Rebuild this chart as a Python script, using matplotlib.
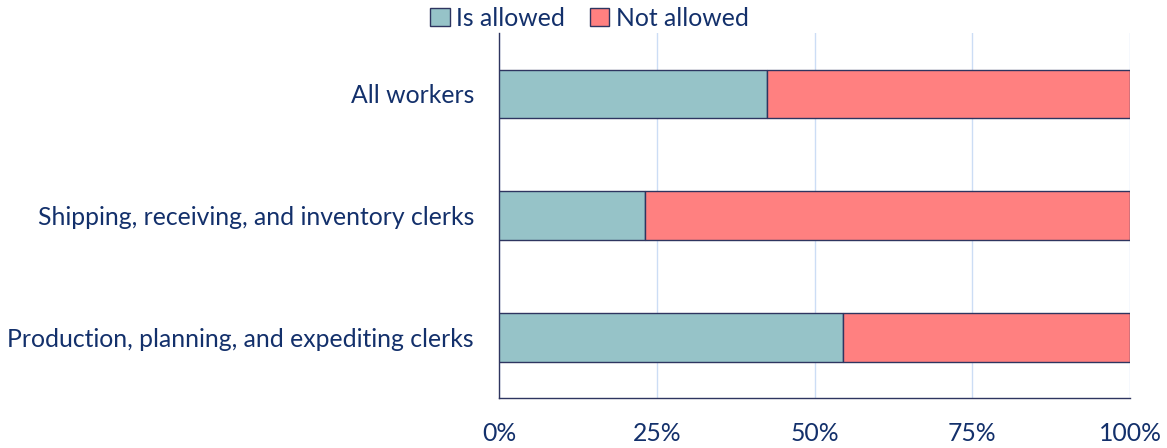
import matplotlib.pyplot as plt
from matplotlib.ticker import PercentFormatter

plt.rcParams['font.family'] = ['Lato', 'DejaVu Sans']

categories = ['All workers',
              'Shipping, receiving, and inventory clerks',
              'Production, planning, and expediting clerks']
is_allowed = [42.5, 23.2, 54.5]
not_allowed = [100 - v for v in is_allowed]

navy = '#13306B'
edge = '#2E3560'
teal = '#96C3C8'
red = '#FF8080'

fig = plt.figure(figsize=(11.67, 4.48), dpi=100)
ax = fig.add_axes([0.4276, 0.1116, 0.5407, 0.8147])

ypos = list(range(len(categories)))
ax.barh(ypos, is_allowed, height=0.4, color=teal, edgecolor=edge,
        linewidth=1, label='Is allowed', zorder=3)
ax.barh(ypos, not_allowed, left=is_allowed, height=0.4, color=red,
        edgecolor=edge, linewidth=1, label='Not allowed', zorder=3)

ax.set_xlim(0, 100)
ax.set_ylim(2.5, -0.5)
ax.set_yticks(ypos)
ax.set_yticklabels(categories)
ax.set_xticks([0, 25, 50, 75, 100])
ax.xaxis.set_major_formatter(PercentFormatter(decimals=0))
ax.tick_params(axis='both', length=0, labelsize=17.8, labelcolor=navy)
ax.tick_params(axis='x', pad=17)
ax.tick_params(axis='y', pad=18)

ax.grid(axis='x', color='#CCDDF5', linewidth=1, zorder=0)
for s in ['top', 'right']:
    ax.spines[s].set_visible(False)
for s in ['left', 'bottom']:
    ax.spines[s].set_color(edge)
    ax.spines[s].set_linewidth(1)

leg = fig.legend(loc='upper center', bbox_to_anchor=(0.505, 1.035), ncol=2,
                 frameon=False, fontsize=17.8, handlelength=0.8,
                 handleheight=0.8, handletextpad=0.25, columnspacing=1.0)
for t in leg.get_texts():
    t.set_color(navy)

fig.savefig('out.png', dpi=100)
